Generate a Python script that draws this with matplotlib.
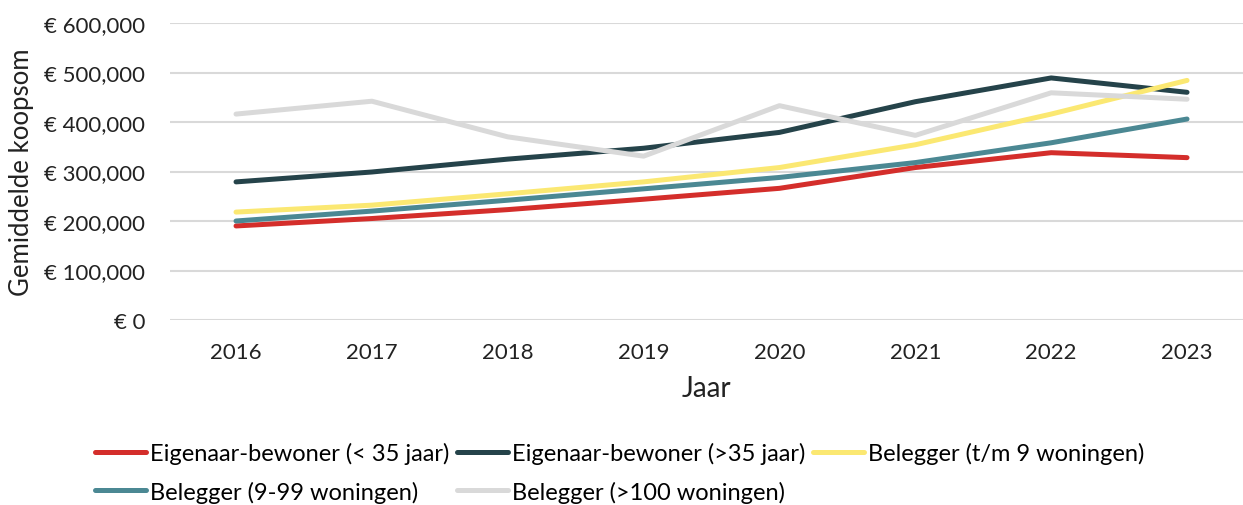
import matplotlib
matplotlib.use("Agg")
import matplotlib.pyplot as plt
from matplotlib.ticker import FuncFormatter

years = ["2016", "2017", "2018", "2019", "2020", "2021", "2022", "2023"]
series_names = [
    "Eigenaar-bewoner (< 35 jaar)",
    "Eigenaar-bewoner (>35 jaar)",
    "Belegger (t/m 9 woningen)",
    "Belegger (9-99 woningen)",
    "Belegger (>100 woningen)",
]
eb_jong = [190000, 205000, 223000, 244000, 266000, 308000, 338000, 328000]
eb_oud = [279000, 299000, 325000, 347000, 379000, 441000, 489000, 460000]
bel_klein = [218000, 232000, 255000, 279000, 308000, 354000, 416000, 484000]
bel_middel = [200000, 220000, 242000, 265000, 288000, 318000, 358000, 406000]
bel_groot = [416000, 442000, 370000, 331000, 433000, 373000, 459000, 446000]
colors = ["#D42E2B", "#25434A", "#FBE872", "#4B8893", "#D9D9D9"]

plt.rcParams['font.family'] = ['Lato', 'DejaVu Sans']

W, H = 1243, 506
fig = plt.figure(figsize=(W / 100, H / 100), dpi=100)
ax = fig.add_axes([170 / W, 1 - 321 / H, (W - 170) / W, 297 / H])

x = list(range(len(years)))
data = [eb_jong, eb_oud, bel_klein, bel_middel, bel_groot]
lines = []
for vals, name, c in zip(data, series_names, colors):
    ln, = ax.plot(x, vals, color=c, lw=3.6, label=name, solid_capstyle='round',
                  solid_joinstyle='round')
    lines.append(ln)

ax.set_ylim(0, 600000)
ax.set_xlim(-0.486, 7.412)
ax.set_yticks(range(0, 600001, 100000))
ax.yaxis.set_major_formatter(FuncFormatter(lambda v, p: "€ {:,.0f}".format(v)))
ax.set_xticks(x)
ax.set_xticklabels(years)
ax.grid(axis='y', color='#D9D9D9', lw=1.5)
ax.set_axisbelow(True)
for s in ax.spines.values():
    s.set_visible(False)
ax.tick_params(axis='both', length=0, labelsize=16, colors='#222222')
ax.tick_params(axis='y', pad=18)
ax.tick_params(axis='x', pad=15.5)
ax.set_xlabel("Jaar", fontsize=20, color='#222222', labelpad=10)
ax.set_ylabel("Gemiddelde koopsom", fontsize=18.5, color='#222222')
ax.yaxis.set_label_coords(-0.127, 0.5)

order = [0, 3, 1, 4, 2]
fig.legend(handles=[lines[i] for i in order], loc='upper left',
           bbox_to_anchor=(95 / W, 1 - 443 / H),
           ncol=3, frameon=False, fontsize=17, handlelength=2.15,
           handletextpad=0.2, columnspacing=0.3, labelspacing=0.7,
           borderaxespad=0, borderpad=0)

fig.savefig("out.png", dpi=100)
